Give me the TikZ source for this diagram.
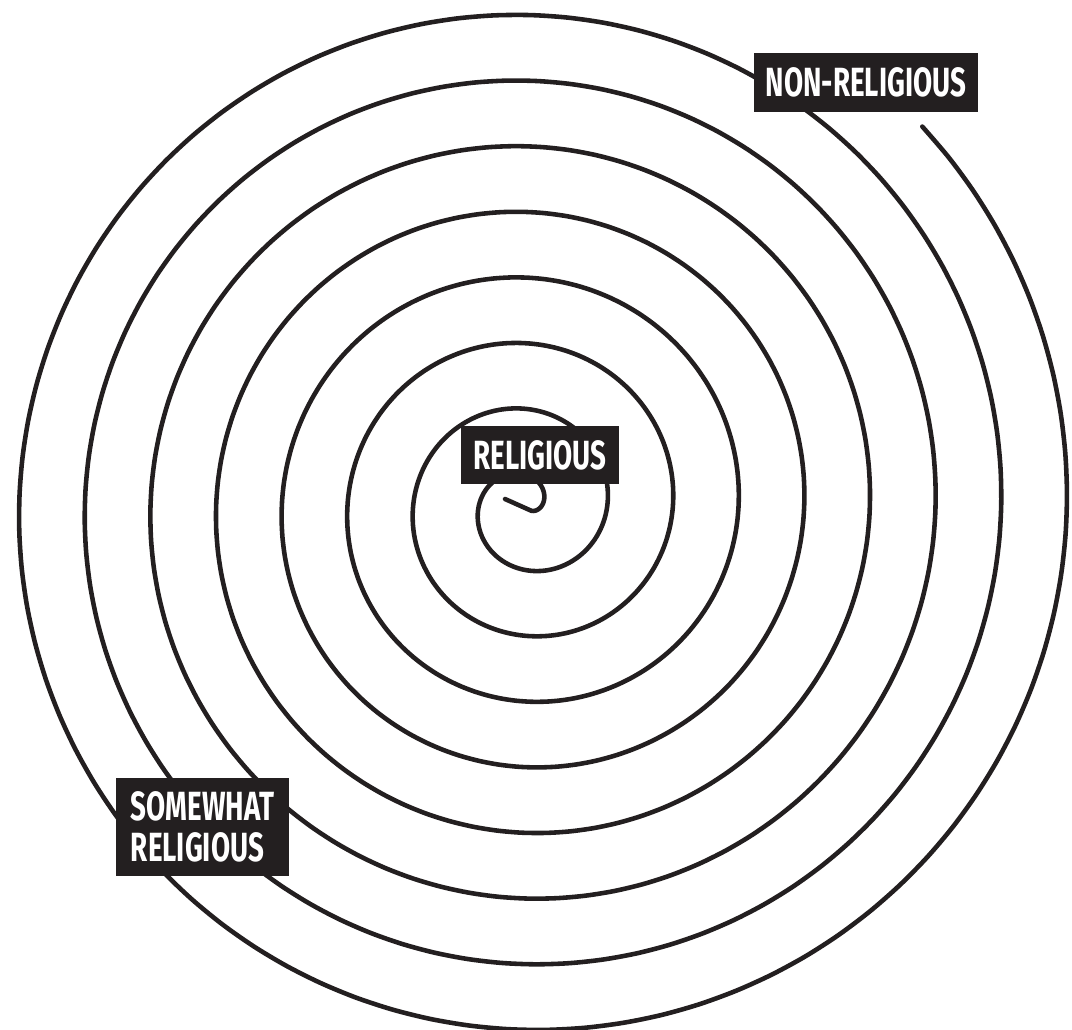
\documentclass[tikz,border=0pt]{standalone}
\usepackage{fontspec}
\usepackage{tikz}
\newfontfamily\tagfont[FakeStretch=0.68]{Fira Sans}
\definecolor{inkdark}{HTML}{231F20}
\tikzset{
  spiralline/.style={draw=inkdark,line width=1.3pt,line cap=round,line join=round},
  tag/.style={fill=inkdark,text=white,inner sep=0pt,
    font=\tagfont\bfseries\fontsize{11.6}{11.7}\selectfont},
}
\begin{document}
\begin{tikzpicture}[x=0.01cm,y=-0.01cm]
\useasboundingbox (0,0) rectangle (1072,1030);
  \coordinate (tip) at (505,499);
  % spiral, from the hook outwards
  \draw[spiralline] (tip) -- plot[smooth,domain=-0.785:51.03,samples=700,variable=\t]
    ({526.6+(15+10.45*\t)*cos(\t r)},{506-(15+10.45*\t)*sin(\t r)});
  \node[tag,minimum width=1.58cm,minimum height=0.58cm] (rel) at (540,455) {RELIGIOUS};
  \node[tag,minimum width=2.24cm,minimum height=0.59cm] (nonrel) at (866,82.5) {NON-RELIGIOUS};
  \node[tag,minimum width=1.73cm,minimum height=0.98cm,align=left,text width=1.43cm]
    (somewhat) at (202.5,827) {SOMEWHAT\\RELIGIOUS};
\end{tikzpicture}
\end{document}
